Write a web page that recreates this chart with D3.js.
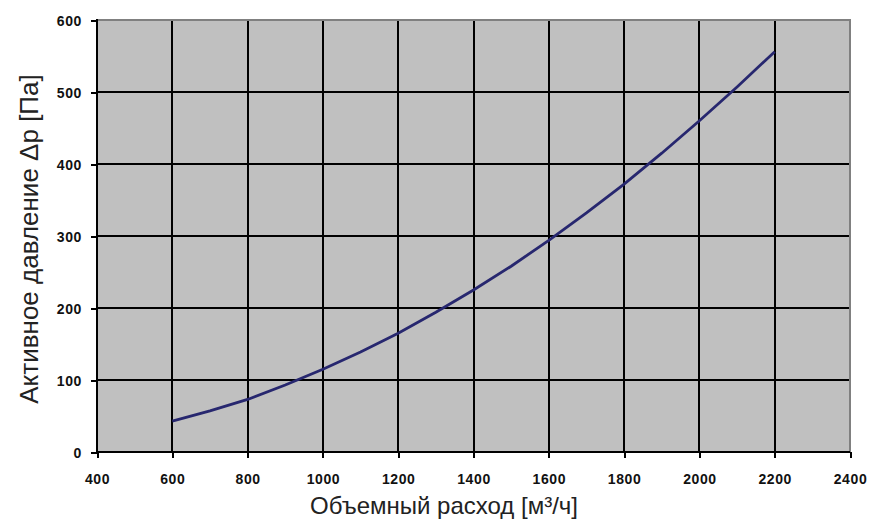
<!DOCTYPE html>
<html>
<head>
<meta charset="utf-8">
<script src="https://cdn.jsdelivr.net/npm/d3@7"></script>
<style>
  html, body { margin: 0; padding: 0; background: #fff; }
  svg { display: block; }
</style>
</head>
<body>
<svg id="chart" width="881" height="526"></svg>
<script>
// ---- data ----
const flowValues = [600, 700, 800, 900, 1000, 1100, 1200, 1300, 1400, 1500, 1600, 1700, 1800, 1900, 2000, 2100, 2200];
const pressureValues = [43, 57, 73, 93, 115, 139, 165, 194, 225, 258, 294, 332, 372, 415, 460, 507, 556];
const xTicks = [400, 600, 800, 1000, 1200, 1400, 1600, 1800, 2000, 2200, 2400];
const yTicks = [0, 100, 200, 300, 400, 500, 600];
const xTitle = "Объемный расход [м³/ч]";
const yTitle = "Активное давление Δp [Па]";

(function () {
const svg = d3.select("#chart");
const pL = 97, pR = 850, pT = 20, pB = 452;
const font = "'Liberation Sans', Arial, sans-serif";

const x = d3.scaleLinear().domain([400, 2400]).range([pL, pR]);
const y = d3.scaleLinear().domain([0, 600]).range([pB, pT]);

// plot background
svg.append("rect").attr("x", pL).attr("y", pT)
  .attr("width", pR - pL).attr("height", pB - pT)
  .attr("fill", "#c0c0c0");

// grid
const g = svg.append("g").attr("shape-rendering", "crispEdges");
g.selectAll(".vg").data(xTicks.slice(1, -1)).enter().append("line")
  .attr("x1", d => Math.round(x(d))).attr("x2", d => Math.round(x(d)))
  .attr("y1", pT).attr("y2", pB)
  .attr("stroke", "#000").attr("stroke-width", 2);
g.selectAll(".hg").data(yTicks.slice(1, -1)).enter().append("line")
  .attr("y1", d => Math.round(y(d))).attr("y2", d => Math.round(y(d)))
  .attr("x1", pL).attr("x2", pR)
  .attr("stroke", "#000").attr("stroke-width", 2);

// gray border top & right
g.append("line").attr("x1", pL).attr("x2", pR + 1).attr("y1", pT).attr("y2", pT)
  .attr("stroke", "#808080").attr("stroke-width", 2);
g.append("line").attr("x1", pR).attr("x2", pR).attr("y1", pT).attr("y2", pB)
  .attr("stroke", "#808080").attr("stroke-width", 2);

// axes via d3
const xAxis = d3.axisBottom(x).tickValues(xTicks).tickSize(6).tickFormat(d3.format("d"));
const yAxis = d3.axisLeft(y).tickValues(yTicks).tickSize(6).tickFormat(d3.format("d"));

const gx = svg.append("g").attr("transform", `translate(0,${pB})`).call(xAxis);
const gy = svg.append("g").attr("transform", `translate(${pL},0)`).call(yAxis);

[gx, gy].forEach(a => {
  a.attr("shape-rendering", "crispEdges");
  a.select(".domain").attr("stroke", "#000").attr("stroke-width", 2);
  a.selectAll(".tick line").attr("stroke", "#000").attr("stroke-width", 2);
  a.selectAll(".tick text")
    .attr("fill", "#111")
    .style("font-family", font)
    .style("font-size", "14px")
    .style("font-weight", "bold")
    .style("letter-spacing", "0.6px");
});
gx.select(".domain").attr("d", `M${pL},0H${pR}`);
gy.select(".domain").attr("d", `M0,${pT - 1}V${pB}`);
gx.selectAll(".tick text").attr("dy", "0").attr("y", 32);
gy.selectAll(".tick text").attr("x", -15).attr("dy", "0.36em");

// curve
const line = d3.line().x((d, i) => x(flowValues[i])).y(d => y(d));
svg.append("path").datum(pressureValues)
  .attr("d", line)
  .attr("fill", "none")
  .attr("stroke", "#27276f")
  .attr("stroke-width", 2.8);

// titles
svg.append("text")
  .attr("x", 444).attr("y", 514)
  .attr("text-anchor", "middle")
  .attr("fill", "#222")
  .style("font-family", font)
  .style("font-size", "24px")
  .text(xTitle);

svg.append("text")
  .attr("transform", "translate(38,239) rotate(-90)")
  .attr("text-anchor", "middle")
  .attr("fill", "#222")
  .style("font-family", font)
  .style("font-size", "26px")
  .text(yTitle);
})();
</script>
</body>
</html>
